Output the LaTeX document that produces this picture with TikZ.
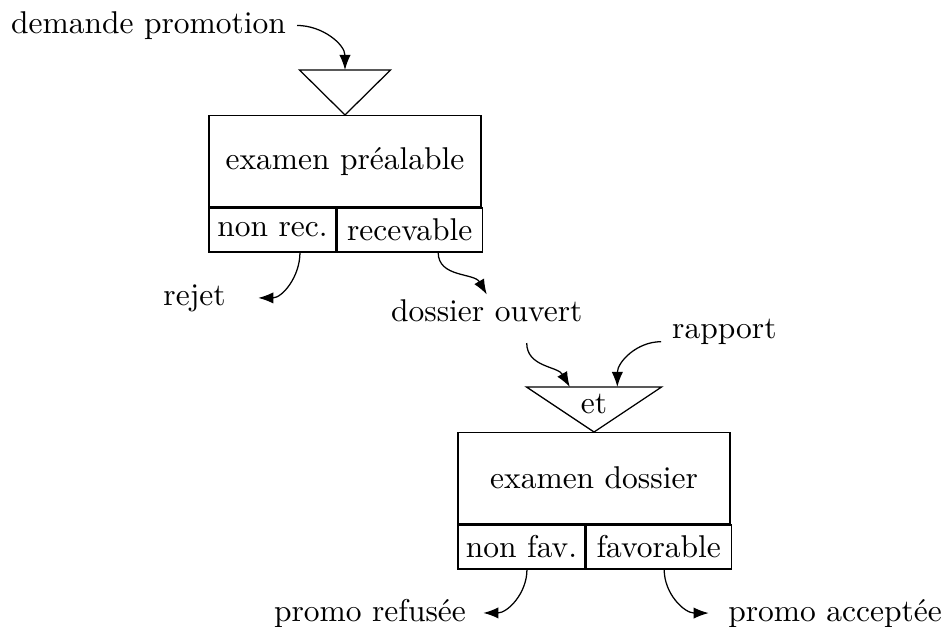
\documentclass[tikz,border=0pt]{standalone}
\usepackage{tikz}
\usetikzlibrary{arrows.meta, positioning, calc}
\tikzset{>=Latex}

\begin{document}
\begin{tikzpicture}[
    kasten/.style={draw, minimum width=3.036cm, minimum height=1.016cm, inner sep=0pt},
    feld/.style={draw, minimum height=0.491cm, inner sep=0pt, anchor=north west}
  ]

  % Rahmen
  \useasboundingbox (0,0) rectangle (10.557,-6.997);

  % Kaesten mit Feldern
  \node[kasten, anchor=north] (pre) at (3.850,-1.283) {examen préalable};
  \node[feld, minimum width=1.417cm] (nonrec) at (pre.south west) {non rec.};
  \node[feld, minimum width=1.618cm] (recev) at (nonrec.north east) {recevable};

  \node[kasten, anchor=north] (dos) at (6.629,-4.821) {examen dossier};
  \node[feld, minimum width=1.417cm] (nonfav) at (dos.south west) {non fav.};
  \node[feld, minimum width=1.618cm] (fav) at (nonfav.north east) {favorable};

  % Dreiecke ueber den Kaesten
  \coordinate (tri1) at (pre.north);
  \draw (tri1) -- ++(-0.508,0.502) -- ++(1.016,0) -- cycle;
  \coordinate (tri1top) at ($(tri1)+(0,0.502)$);

  \coordinate (tri2) at (dos.north);
  \draw (tri2) -- ++(-0.753,0.502) -- ++(1.506,0) -- cycle;
  \node (et) at ($(tri2)+(0,0.312)$) {et};
  \coordinate (etl) at ($(tri2)+(-0.27,0.502)$);
  \coordinate (etr) at ($(tri2)+(0.26,0.502)$);

  % Beschriftungen
  \node[anchor=base] (demande) at (1.657,-0.372) {demande promotion};
  \node[anchor=base] (rejet) at (2.171,-3.404) {rejet};
  \node[anchor=base] (dossier) at (5.432,-3.590) {dossier ouvert};
  \node[anchor=base] (rapport) at (8.084,-3.783) {rapport};
  \node[anchor=base] (refus) at (4.129,-6.930) {promo refusée};
  \node[anchor=base] (accept) at (9.319,-6.930) {promo acceptée};

  % Pfeile
  \draw[->] (demande.east) to[out=0, in=90] (tri1top);
  \draw[->] ([xshift=0.307cm]nonrec.south) to[out=-90, in=0] ([xshift=0.24cm]rejet.east);
  \draw[->] ([xshift=0.318cm]recev.south) to[out=-90, in=120] ([yshift=-0.064cm]dossier.north);
  \draw[->] ([xshift=0.446cm, yshift=-0.11cm]dossier.south) to[out=-90, in=120] (etl);
  \draw[->] ([yshift=-0.104cm]rapport.west) to[out=180, in=90] (etr);
  \draw[->] ([xshift=0.061cm]nonfav.south) to[out=-90, in=0] ([xshift=0.07cm]refus.east);
  \draw[->] ([xshift=0.061cm]fav.south) to[out=-90, in=180] ([xshift=-0.095cm]accept.west);

\end{tikzpicture}
\end{document}
